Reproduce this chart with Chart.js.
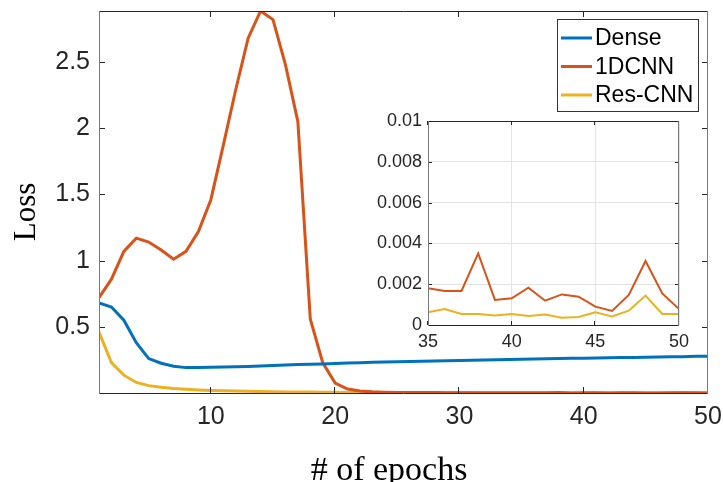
<!DOCTYPE html>
<html><head><meta charset="utf-8">
<script src="https://cdn.jsdelivr.net/npm/chart.js@4.4.1/dist/chart.umd.min.js"></script>
<style>
html,body{margin:0;padding:0;background:#fff;}
#wrap{position:relative;width:723px;height:482px;overflow:hidden;background:#fff;}
#main{position:absolute;left:0;top:0;width:723px;height:482px;}
#inset{position:absolute;left:350px;top:110px;width:345px;height:260px;}
</style></head><body>
<div id="wrap"><canvas id="main" width="723" height="482"></canvas><canvas id="inset" width="345" height="260"></canvas></div>
<script>
// ---------- data ----------
const epochs = [1,2,3,4,5,6,7,8,9,10,11,12,13,14,15,16,17,18,19,20,21,22,23,24,25,26,27,28,29,30,31,32,33,34,35,36,37,38,39,40,41,42,43,44,45,46,47,48,49,50];
const seriesNames = ['Dense', '1DCNN', 'Res-CNN'];
const denseLoss = [0.68,0.65,0.55,0.38,0.26,0.225,0.203,0.192,0.193,0.195,0.196,0.198,0.201,0.205,0.208,0.211,0.215,0.217,0.220,0.223,0.226,0.229,0.232,0.234,0.236,0.238,0.240,0.242,0.244,0.246,0.248,0.250,0.252,0.253,0.255,0.257,0.259,0.260,0.262,0.263,0.265,0.266,0.268,0.269,0.271,0.272,0.274,0.275,0.277,0.278];
const cnnLoss = [0.72,0.86,1.07,1.17,1.14,1.08,1.01,1.07,1.22,1.46,1.87,2.29,2.68,2.885,2.82,2.48,2.05,0.56,0.23,0.075,0.03,0.015,0.009,0.006,0.005,0.0045,0.004,0.0035,0.003,0.003,0.0028,0.0025,0.0022,0.002,0.0018,0.00167,0.00167,0.00351,0.00123,0.00131,0.00183,0.00119,0.0015,0.00139,0.0009,0.00069,0.00147,0.00314,0.00155,0.00078];
const resLoss = [0.46,0.23,0.135,0.08,0.056,0.043,0.034,0.028,0.023,0.02,0.017,0.015,0.013,0.011,0.0098,0.0088,0.0079,0.007,0.0062,0.0055,0.0048,0.0042,0.0037,0.0033,0.003,0.0027,0.0024,0.0021,0.0019,0.0017,0.0015,0.0013,0.0011,0.0009,0.00062,0.00078,0.00054,0.00054,0.00047,0.00054,0.00044,0.00051,0.00036,0.00039,0.00062,0.00042,0.0007,0.00144,0.00054,0.00054];
const mainXTicks = [10, 20, 30, 40, 50];
const mainYTicks = [0.5, 1, 1.5, 2, 2.5];
const insetXTicks = [35, 40, 45, 50];
const insetYTicks = [0, 0.002, 0.004, 0.006, 0.008, 0.01];
const insetXRange = [35, 50];
const insetYRange = [0, 0.01];
const xTitle = '# of epochs';
const yTitle = 'Loss';

// ---------- styles ----------
const COLORS = ['#0072BD', '#D95319', '#EDB120'];
const SANS = '"Liberation Sans", Arial, Helvetica, sans-serif';
const SERIF = '"Liberation Serif", "Times New Roman", serif';
const AXIS_DARK = '#262626';
const AXIS_SIDE = '#7a7a7a';

const allSeries = [denseLoss, cnnLoss, resLoss];
const toPts = arr => epochs.map((e, i) => ({x: e, y: arr[i]}));
const flat = allSeries.flat();
const yMin = Math.min(...flat);
const yMax = Math.max(...flat);

function fixedSize(w, h) {
  return s => {
    if (w != null) s.width = w;
    if (h != null) s.height = h;
    s.paddingLeft = 0; s.paddingRight = 0; s.paddingTop = 0; s.paddingBottom = 0;
  };
}
const setTicks = list => s => { s.ticks = list.map(v => ({value: v})); };

function boxPlugin(tickLen, xt, yt) {
  return {
    id: 'boxAxes',
    afterDatasetsDraw(chart) {
      const {ctx, chartArea: a, scales: {x, y}} = chart;
      ctx.save();
      ctx.lineWidth = 1;
      ctx.strokeStyle = AXIS_DARK;
      ctx.beginPath();
      xt.forEach(v => {
        const px = Math.round(x.getPixelForValue(v)) - 0.5;
        ctx.moveTo(px, a.bottom); ctx.lineTo(px, a.bottom - tickLen);
        ctx.moveTo(px, a.top); ctx.lineTo(px, a.top + tickLen);
      });
      yt.forEach(v => {
        const py = Math.round(y.getPixelForValue(v)) + 0.5;
        ctx.moveTo(a.left, py); ctx.lineTo(a.left + tickLen, py);
        ctx.moveTo(a.right, py); ctx.lineTo(a.right - tickLen, py);
      });
      ctx.stroke();
      ctx.beginPath();
      ctx.moveTo(a.left, a.top + 0.5); ctx.lineTo(a.right, a.top + 0.5);
      ctx.moveTo(a.left, a.bottom + 0.5); ctx.lineTo(a.right, a.bottom + 0.5);
      ctx.stroke();
      ctx.strokeStyle = AXIS_SIDE;
      ctx.beginPath();
      ctx.moveTo(a.left + 0.5, a.top); ctx.lineTo(a.left + 0.5, a.bottom + 1);
      ctx.moveTo(a.right - 0.5, a.top); ctx.lineTo(a.right - 0.5, a.bottom + 1);
      ctx.stroke();
      ctx.restore();
    }
  };
}

const legendPlugin = {
  id: 'boxLegend',
  afterDraw(chart) {
    const {ctx} = chart;
    const L = 557, T = 19, R = 699, B = 112;
    ctx.save();
    ctx.fillStyle = '#fff';
    ctx.fillRect(L, T, R - L, B - T);
    ctx.strokeStyle = '#333';
    ctx.lineWidth = 1;
    ctx.strokeRect(L + 0.5, T + 0.5, R - L - 1, B - T - 1);
    ctx.font = `23px ${SANS}`;
    ctx.textBaseline = 'middle';
    ctx.textAlign = 'left';
    chart.data.datasets.forEach((ds, i) => {
      const yy = T + 19 + i * 28.5;
      ctx.strokeStyle = ds.borderColor;
      ctx.lineWidth = 3;
      ctx.beginPath(); ctx.moveTo(561, yy); ctx.lineTo(592, yy); ctx.stroke();
      ctx.fillStyle = '#000';
      ctx.fillText(ds.label, 595, yy + 1);
    });
    ctx.restore();
  }
};

const titlePlugin = {
  id: 'axisTitles',
  afterDraw(chart) {
    const {ctx} = chart;
    ctx.save();
    ctx.fillStyle = '#000';
    ctx.textAlign = 'center';
    ctx.textBaseline = 'alphabetic';
    ctx.font = `34px ${SERIF}`;
    ctx.fillText(xTitle, 389, 480);
    ctx.translate(35, 212);
    ctx.rotate(-Math.PI / 2);
    ctx.font = `31px ${SERIF}`;
    ctx.fillText(yTitle, 0, 0);
    ctx.restore();
  }
};

const mainChart = new Chart(document.getElementById('main'), {
  type: 'line',
  data: {
    datasets: seriesNames.map((n, i) => ({
      label: n, data: toPts(allSeries[i]), borderColor: COLORS[i], backgroundColor: COLORS[i],
      borderWidth: 3, pointRadius: 0, tension: 0, fill: false
    }))
  },
  options: {
    responsive: false, animation: false, devicePixelRatio: 1,
    layout: {padding: {left: 0, top: 11, right: 15, bottom: 0}},
    plugins: {legend: {display: false}, tooltip: {enabled: false}},
    scales: {
      x: {
        type: 'linear', min: epochs[0], max: epochs[epochs.length - 1],
        afterBuildTicks: setTicks(mainXTicks), afterFit: fixedSize(null, 89),
        grid: {display: false, drawTicks: false}, border: {display: false},
        ticks: {autoSkip: false, maxRotation: 0, padding: 9, color: AXIS_DARK, font: {family: SANS, size: 25}, callback: v => String(v)}
      },
      y: {
        type: 'linear', min: yMin, max: yMax,
        afterBuildTicks: setTicks(mainYTicks), afterFit: fixedSize(99, null),
        grid: {display: false, drawTicks: false}, border: {display: false},
        ticks: {autoSkip: false, padding: 9, color: AXIS_DARK, font: {family: SANS, size: 25}, callback: v => String(v)}
      }
    }
  },
  plugins: [boxPlugin(6, mainXTicks, mainYTicks), legendPlugin, titlePlugin]
});

const insetBg = {
  id: 'insetBg',
  beforeDraw(chart) {
    const {ctx, chartArea: a} = chart;
    ctx.save(); ctx.fillStyle = '#fff';
    ctx.fillRect(a.left, a.top, a.right - a.left, a.bottom - a.top);
    ctx.restore();
  }
};

const insetChart = new Chart(document.getElementById('inset'), {
  type: 'line',
  data: {
    datasets: [1, 2].map(i => ({
      label: seriesNames[i], data: toPts(allSeries[i]), borderColor: COLORS[i],
      borderWidth: 2, pointRadius: 0, tension: 0, fill: false
    }))
  },
  options: {
    responsive: false, animation: false, devicePixelRatio: 1,
    layout: {padding: {left: 0, top: 11, right: 16, bottom: 0}},
    plugins: {legend: {display: false}, tooltip: {enabled: false}},
    scales: {
      x: {
        type: 'linear', min: insetXRange[0], max: insetXRange[1],
        afterBuildTicks: setTicks(insetXTicks), afterFit: fixedSize(null, 45),
        grid: {display: true, drawTicks: false, color: '#e3e3e3'}, border: {display: false},
        ticks: {autoSkip: false, maxRotation: 0, padding: 6, color: AXIS_DARK, font: {family: SANS, size: 18}, callback: v => String(v)}
      },
      y: {
        type: 'linear', min: insetYRange[0], max: insetYRange[1],
        afterBuildTicks: setTicks(insetYTicks), afterFit: fixedSize(78, null),
        grid: {display: true, drawTicks: false, color: '#e3e3e3'}, border: {display: false},
        ticks: {autoSkip: false, padding: 6, color: AXIS_DARK, font: {family: SANS, size: 18}, callback: v => String(v)}
      }
    }
  },
  plugins: [insetBg, boxPlugin(4, insetXTicks, insetYTicks)]
});
</script>
</body></html>
